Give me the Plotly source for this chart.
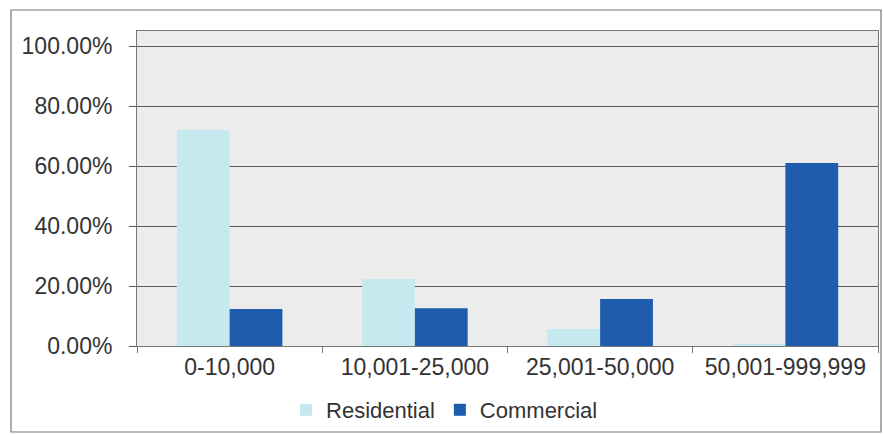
import plotly.graph_objects as go

categories = ["0-10,000", "10,001-25,000", "25,001-50,000", "50,001-999,999"]
residential = [72.0, 22.3, 5.7, 0.5]
commercial = [12.3, 12.6, 15.7, 61.0]
y_ticks = [0, 20, 40, 60, 80, 100]
y_tick_labels = ["0.00%", "20.00%", "40.00%", "60.00%", "80.00%", "100.00%"]

W, H = 883, 435
L, R, T, B = 137, 5, 31, 89

fig = go.Figure()
fig.add_trace(go.Bar(name="Residential", x=categories, y=residential,
                     marker=dict(color="#c6e9ef", line=dict(width=0))))
fig.add_trace(go.Bar(name="Commercial", x=categories, y=commercial,
                     marker=dict(color="#1f5cae", line=dict(width=0))))

pw = W - L - R
ph = H - T - B
def px_x(x):
    return (x - L) / pw
def px_y(y):
    return (H - B - y) / ph

fig.update_layout(
    width=W, height=H,
    margin=dict(l=L, r=R, t=T, b=B, autoexpand=False),
    paper_bgcolor="white",
    plot_bgcolor="#ececed",
    barmode="group",
    bargap=0.43,
    bargroupgap=0.0,
    font=dict(family="Liberation Sans, Arial, sans-serif", size=23, color="#333333"),
    legend=dict(orientation="h", x=0.415, xanchor="center", y=px_y(410), yanchor="middle",
                font=dict(size=22, color="#333333"), bgcolor="rgba(0,0,0,0)",
                traceorder="normal", itemwidth=30, tracegroupgap=0),
    showlegend=True,
    xaxis=dict(showgrid=False, showline=True, linecolor="#777777", linewidth=1,
               ticks="outside", ticklen=6, tickcolor="#777777",
               tickson="boundaries", mirror=True, automargin=False),
    yaxis=dict(range=[0, 105], tickvals=y_ticks, ticktext=y_tick_labels,
               showgrid=True, gridcolor="#5a5a5a", gridwidth=1.2,
               showline=True, linecolor="#777777", linewidth=1, mirror=True,
               ticks="outside", ticklen=7, tickcolor="#5a5a5a",
               ticklabelstandoff=12, zeroline=False, automargin=False),
    shapes=[dict(type="rect", xref="paper", yref="paper",
                 x0=px_x(11), x1=px_x(881), y0=px_y(432), y1=px_y(10),
                 line=dict(color="#777777", width=1.2), fillcolor="rgba(0,0,0,0)",
                 layer="below")],
)
fig.write_html("out.html", config={"displayModeBar": False},
               post_script="document.body.style.margin='0';document.body.style.overflow='hidden';")
